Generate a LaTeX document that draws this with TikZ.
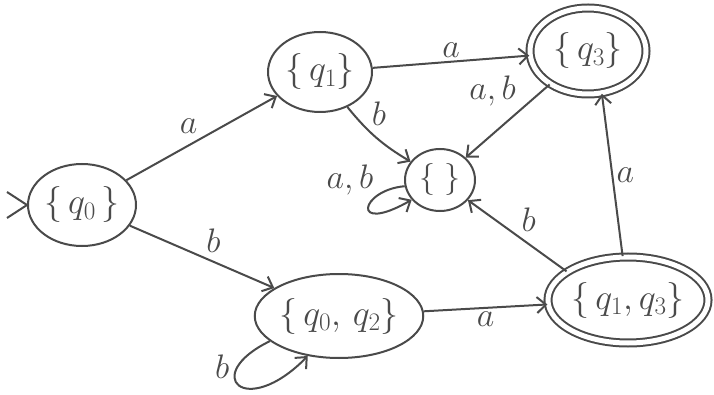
\RequirePackage{fix-cm}
\documentclass[tikz,border=0pt]{standalone}
\usetikzlibrary{shapes.geometric,arrows.meta}
\definecolor{pencil}{HTML}{4A4A4A}

\tikzset{
  state/.style={ellipse,draw=pencil,line width=2pt,inner sep=0pt,text=pencil,
    font=\fontsize{36}{40}\selectfont},
  accept/.style={state,double=white,double distance=5pt},
  edge/.style={draw=pencil,line width=2pt,-{Straight Barb[length=9pt,width=16pt]}},
  lbl/.style={text=pencil,font=\fontsize{34}{38}\selectfont}
}

\begin{document}
\begin{tikzpicture}[x=1pt,y=-1pt]
  \useasboundingbox (0,0) rectangle (714,395);
  \node[state,minimum width=108pt,minimum height=82pt] (q0) at (82,205) {$\{\,q_0\,\}$};
  \node[state,minimum width=104pt,minimum height=80pt] (q1) at (320,72) {$\{\,q_1\}$};
  \node[accept,minimum width=116pt,minimum height=86pt] (q3) at (588,51) {$\{\,q_3\}$};
  \node[state,minimum width=70pt,minimum height=62pt,font=\fontsize{32}{36}\selectfont] (empty) at (440,180) {$\{\;\}$};
  \node[state,minimum width=162pt,minimum height=84pt] (q02) at (339,316) {$\{\,q_0,\,q_2\}$};
  \node[accept,minimum width=154pt,minimum height=86pt] (q13) at (628,300) {$\{\,q_1,q_3\}$};

  \draw[draw=pencil,line width=2pt] ([xshift=-20pt,yshift=13pt]q0.west) -- (q0.west)
    -- ([xshift=-20pt,yshift=-13pt]q0.west);

  \draw[edge] (q0) -- node[lbl,above left] {$a$} (q1);
  \draw[edge] (q0) -- node[lbl,above right] {$b$} (q02);
  \draw[edge] (q1) -- node[lbl,above] {$a$} (q3);
  \draw[edge] (q1) to[bend right=10] node[lbl,pos=0.35,above right] {$b$} (empty);
  \draw[edge] (q3) -- node[lbl,pos=0.35,above left] {$a,b$} (empty);
  \draw[edge] (q13.97) -- node[lbl,right] {$a$} (q3.-72);
  \draw[edge] (q13.155) -- node[lbl,above right] {$b$} (empty);
  \draw[edge] (q02) -- node[lbl,below] {$a$} (q13);
  \draw[edge] (q02.200) .. controls (200,375) and (245,420) .. node[lbl,pos=0.25,left=4pt] {$b$} (q02.232);
  \draw[edge] (empty.190) .. controls (360,190) and (350,235) .. (empty.215);
  \node[lbl] (loopab) at (350,180) {$a,b$};
\end{tikzpicture}
\end{document}
